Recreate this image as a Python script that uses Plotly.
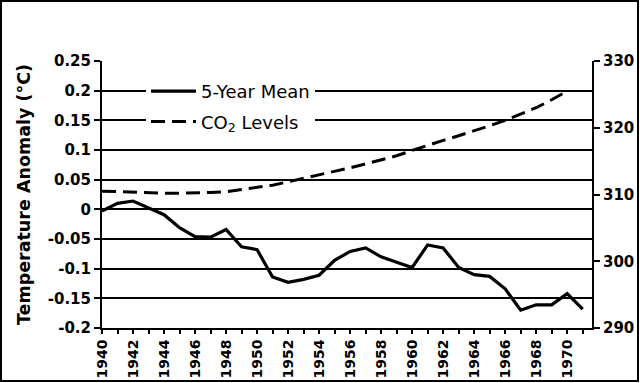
import plotly.graph_objects as go

years = list(range(1940, 1972))
temp_5yr_mean = [-0.003, 0.010, 0.014, 0.002, -0.009, -0.031, -0.046, -0.047, -0.034, -0.063,
                 -0.068, -0.114, -0.123, -0.118, -0.111, -0.086, -0.071, -0.065, -0.080, -0.089,
                 -0.098, -0.060, -0.065, -0.098, -0.110, -0.113, -0.134, -0.170, -0.161, -0.161,
                 -0.142, -0.168]
co2_years = list(range(1940, 1971))
co2_levels = [310.5, 310.4, 310.3, 310.2, 310.2, 310.2, 310.2, 310.3, 310.4, 310.7,
              311.0, 311.4, 311.9, 312.4, 312.9, 313.4, 314.0, 314.6, 315.2, 315.8,
              316.6, 317.4, 318.1, 318.8, 319.5, 320.3, 321.1, 322.0, 323.0, 324.2, 325.5]

left_ticks = [-0.2, -0.15, -0.1, -0.05, 0, 0.05, 0.1, 0.15, 0.2, 0.25]
left_tick_text = ["-0.2", "-0.15", "-0.1", "-0.05", "0", "0.05", "0.1", "0.15", "0.2", "0.25"]
right_ticks = [290, 300, 310, 320, 330]
x_ticks = list(range(1940, 1971, 2))

FONT = "DejaVu Sans"
W, H = 640, 383
L, R, T, B = 102, 48, 61, 55
PW, PH = W - L - R, H - T - B

fig = go.Figure()
fig.add_trace(go.Scatter(
    x=years, y=temp_5yr_mean, mode="lines", name="5-Year Mean",
    line=dict(color="black", width=3.2), legendgroup="a"))
fig.add_trace(go.Scatter(
    x=co2_years, y=co2_levels, mode="lines", name="CO<sub>2</sub> Levels",
    line=dict(color="black", width=3, dash="14px,7px"), yaxis="y2", legendgroup="b"))

fig.update_layout(
    width=W, height=H,
    margin=dict(l=L, r=R, t=T, b=B, pad=0, autoexpand=False),
    paper_bgcolor="white", plot_bgcolor="white",
    font=dict(family=FONT, color="black"),
    showlegend=True,
    legend=dict(x=(146 - L) / PW, y=(328 - 73) / PH, xanchor="left", yanchor="top",
                bgcolor="white", borderwidth=0, font=dict(size=18, family=FONT),
                tracegroupgap=4, itemwidth=45),
    xaxis=dict(range=[1940, 1971.6], tickmode="array", tickvals=x_ticks,
               ticktext=[str(v) for v in x_ticks], tickangle=-90,
               tickfont=dict(size=14, family=FONT, weight="bold"),
               ticks="outside", ticklen=4, tickwidth=1.5, tickcolor="black",
               minor=dict(dtick=1, ticks="outside", ticklen=4, tickwidth=1.5, tickcolor="black"),
               showline=True, linecolor="black", linewidth=2, showgrid=False, zeroline=False),
    yaxis=dict(range=[-0.2, 0.25], tickmode="array", tickvals=left_ticks, ticktext=left_tick_text,
               tickfont=dict(size=15, family=FONT, weight="bold"),
               ticks="outside", ticklen=6, tickwidth=1.5, tickcolor="black",
               showline=True, linecolor="black", linewidth=2,
               showgrid=True, gridcolor="black", gridwidth=1.5, zeroline=False,
               title=dict(text="Temperature Anomaly (°C)", standoff=13,
                          font=dict(size=17.5, family=FONT, weight="bold"))),
    yaxis2=dict(range=[290, 330], overlaying="y", side="right", tickmode="array",
                tickvals=right_ticks, tickfont=dict(size=15, family=FONT, weight="bold"),
                ticks="outside", ticklen=6, tickwidth=1.5, tickcolor="black",
                showline=True, linecolor="black", linewidth=2, showgrid=False, zeroline=False),
    shapes=[dict(type="rect", xref="paper", yref="paper",
                 x0=(1 - L) / PW, x1=(W - 2 - L) / PW,
                 y0=(T + PH - (H - 2)) / PH, y1=(T + PH - 1) / PH,
                 line=dict(color="black", width=2), fillcolor="rgba(0,0,0,0)", layer="above")],
)

fig.write_html("out.html", config={"displayModeBar": False},
               post_script="document.body.style.margin='0';document.body.style.padding='0';")
